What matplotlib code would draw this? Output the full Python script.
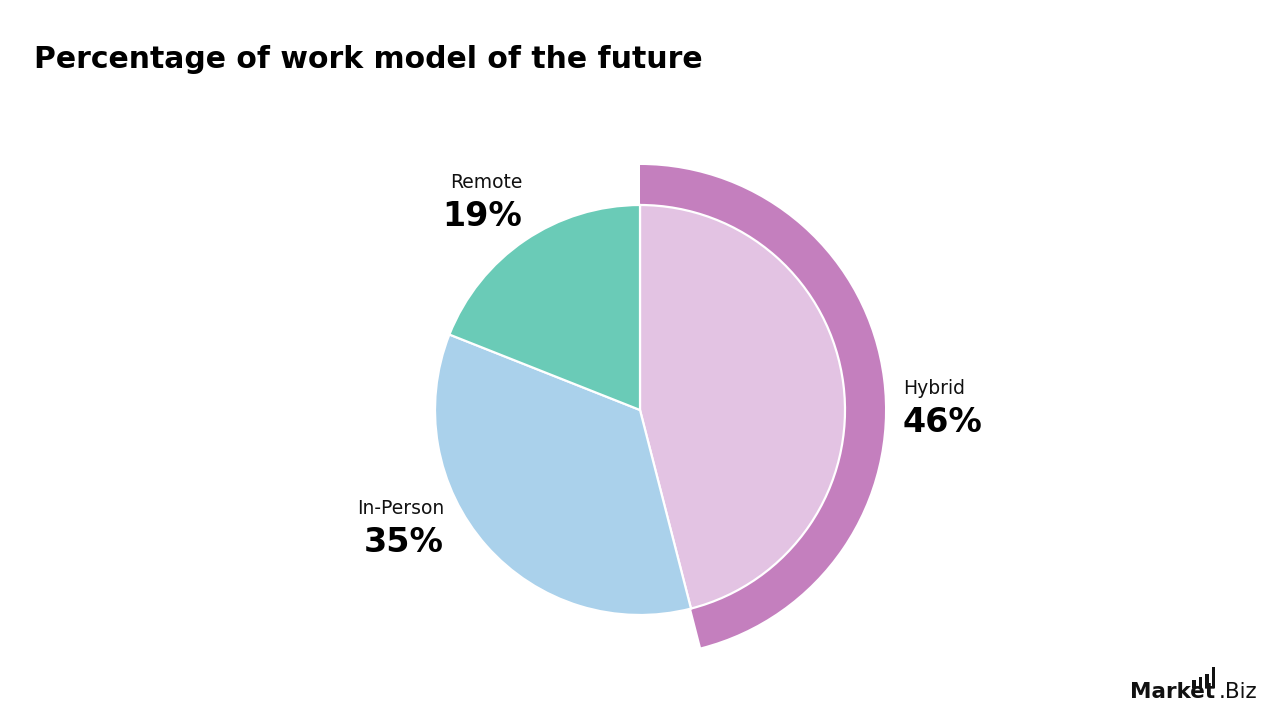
import matplotlib
matplotlib.use("Agg")
import matplotlib.pyplot as plt
from matplotlib.patches import Rectangle

categories = ["Hybrid", "In-Person", "Remote"]
values = [46, 35, 19]
colors = ["#E3C3E3", "#AAD1EB", "#6ACBB7"]
ring_color = "#C47FBE"
title = "Percentage of work model of the future"

plt.rcParams['font.family'] = ['DejaVu Sans']

fig = plt.figure(figsize=(12.8, 7.2), dpi=100)
ax = fig.add_axes([0, 0, 1, 1])

cx, cy = 640, 720 - 410
# outer highlight ring for the first (largest) slice
ax.pie(values, startangle=90, counterclock=False, radius=245, center=(cx, cy),
       colors=[ring_color, 'none', 'none'],
       wedgeprops=dict(width=42, edgecolor='none', linewidth=0))
ax.pie(values, startangle=90, counterclock=False, radius=205, center=(cx, cy),
       colors=colors, wedgeprops=dict(edgecolor='white', linewidth=1.6))
ax.set_xlim(0, 1280)
ax.set_ylim(0, 720)
ax.set_aspect('equal')
ax.axis('off')

# labels
label_pos = {"Hybrid": (903, 388, 'left'), "In-Person": (444, 508, 'right'), "Remote": (522, 182, 'right')}
for cat, v in zip(categories, values):
    x, y, ha = label_pos[cat]
    ax.text(x, 720 - y, cat, fontsize=13.5, ha=ha, va='center', color='#111111')
    ax.text(x, 720 - (y + 35), f"{v}%", fontsize=24, fontweight='bold', ha=ha, va='center', color='#000000')

fig.text(34 / 1280, 1 - 59 / 720, title, fontsize=21.5, fontweight='bold', ha='left', va='center', color='#000000')

# logo
ax.text(1130, 720 - 692, "Market", fontsize=15.5, fontweight='bold', ha='left', va='center', color='#111111')
ax.text(1257, 720 - 692, ".Biz", fontsize=15.5, ha='right', va='center', color='#111111')
for i, h in enumerate([8, 11, 14, 21]):
    ax.add_patch(Rectangle((1192 + i * 6.5, 720 - 688), 3.5, h, color='#111111', lw=0))

fig.savefig("out.png", dpi=100)
